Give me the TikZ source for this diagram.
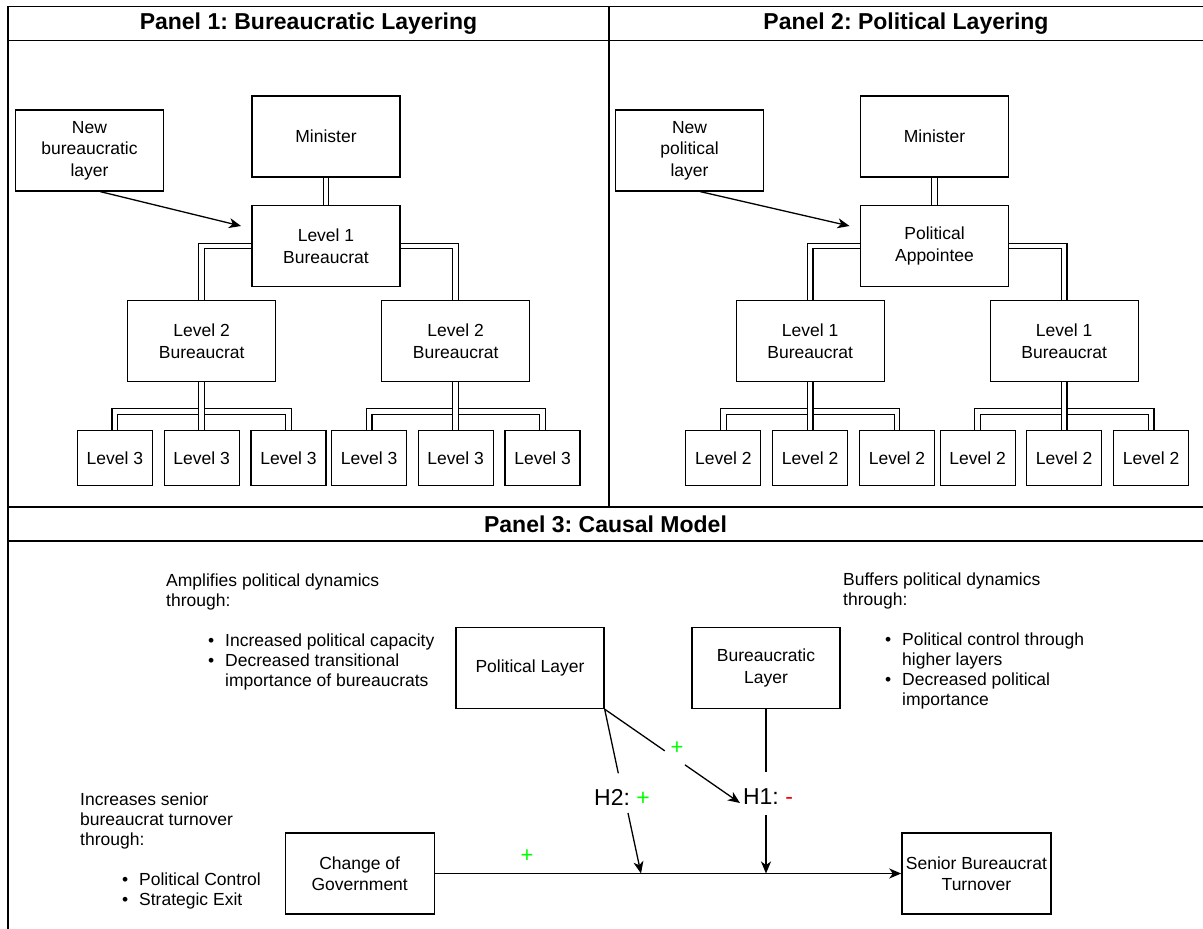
\documentclass[tikz,border=0pt]{standalone}
\usepackage{fontspec}
\setmainfont{Liberation Sans}
\usetikzlibrary{arrows.meta,calc}
\pgfdeclarelayer{bg}
\pgfsetlayers{bg,main}
\definecolor{pgreen}{HTML}{00FF00}
\definecolor{mred}{HTML}{FF0000}
\newcommand{\boxfont}{\fontsize{17.5}{21.5}\selectfont}
\newcommand{\blockfont}{\fontsize{17.5}{20}\selectfont}
\newcommand{\bl}{\makebox[17pt][l]{\textbullet}}
\frenchspacing
\begin{document}
\begin{tikzpicture}[x=1pt,y=-1pt,
  box/.style={draw=black, line width=1.3pt, fill=white, minimum width=148pt, minimum height=81pt, align=center, inner sep=0pt, font=\boxfont},
  leaf/.style={box, minimum width=75pt, minimum height=55pt},
  dbl/.style={draw=black, double=white, double distance=4.5pt, line width=1.2pt},
  frame/.style={draw=black, line width=1.5pt},
  conn/.style={draw=black, line width=1.3pt},
  arr/.style={conn, -{Stealth[length=12pt,width=10pt,inset=3.5pt]}},
  ttl/.style={font=\fontsize{23}{27}\selectfont\bfseries, inner sep=0pt},
  txt/.style={font=\blockfont, inner sep=0pt, anchor=north west, align=left},
  hl/.style={font=\fontsize{23}{27}\selectfont, inner sep=0pt},
  sign/.style={font=\fontsize{22}{26}\selectfont, inner sep=0pt, text=pgreen},
]
\useasboundingbox (0,0) rectangle (1203,929);

% frame
\draw[frame] (1210,6.5) -- (8,6.5) -- (8,935);
\draw[frame] (8,40.5) -- (1210,40.5);
\draw[frame] (609,6.5) -- (609,507);
\draw[frame] (8,507) -- (1210,507);
\draw[frame] (8,541) -- (1210,541);

\node[ttl] (t1) at (308.5,23.5) {Panel 1: Bureaucratic Layering};
\node[ttl] (t2) at (906,23.5) {Panel 2: Political Layering};
\node[ttl] (t3) at (605.5,524) {Panel 3: Causal Model};

% ---------- Panel 1 ----------
\node[box] (nb1) at (89.5,150.4) {New\\bureaucratic\\layer};
\node[box] (min1) at (326,136.5) {Minister};
\node[box] (l11) at (326,246) {Level 1\\Bureaucrat};
\node[box] (l2a1) at (201.7,341) {Level 2\\Bureaucrat};
\node[box] (l2b1) at (455.7,341) {Level 2\\Bureaucrat};
\node[leaf] (a1) at (114.8,458) {Level 3};
\node[leaf] (a2) at (201.7,458) {Level 3};
\node[leaf] (a3) at (288.5,458) {Level 3};
\node[leaf] (b1) at (369.2,458) {Level 3};
\node[leaf] (b2) at (455.7,458) {Level 3};
\node[leaf] (b3) at (542.6,458) {Level 3};

% ---------- Panel 2 ----------
\node[box] (nb2) at (689.5,150.4) {New\\political\\layer};
\node[box] (min2) at (934.5,136.5) {Minister};
\node[box] (pa2) at (934.5,246) {Political\\Appointee};
\node[box] (l2a2) at (810.2,341) {Level 1\\Bureaucrat};
\node[box] (l2b2) at (1064.2,341) {Level 1\\Bureaucrat};
\node[leaf] (c1) at (723.3,458) {Level 2};
\node[leaf] (c2) at (810.2,458) {Level 2};
\node[leaf] (c3) at (897,458) {Level 2};
\node[leaf] (d1) at (977.7,458) {Level 2};
\node[leaf] (d2) at (1064.2,458) {Level 2};
\node[leaf] (d3) at (1151.1,458) {Level 2};

\begin{pgfonlayer}{bg}
  \draw[dbl] (min1.south) -- (l11.north);
  \draw[dbl] (l11.west) -| (l2a1.north);
  \draw[dbl] (l11.east) -| (l2b1.north);
  \draw[dbl] (l2a1.south) -- ++(0,29.3) -| (a1.north);
  \draw[dbl] (l2a1.south) -- ++(0,29.3) -| (a3.north);
  \draw[dbl] (l2a1.south) -- (a2.north);
  \draw[dbl] (l2b1.south) -- ++(0,29.3) -| (b1.north);
  \draw[dbl] (l2b1.south) -- ++(0,29.3) -| (b3.north);
  \draw[dbl] (l2b1.south) -- (b2.north);

  \draw[dbl] (min2.south) -- (pa2.north);
  \draw[dbl] (pa2.west) -| (l2a2.north);
  \draw[dbl] (pa2.east) -| (l2b2.north);
  \draw[dbl] (l2a2.south) -- ++(0,29.3) -| (c1.north);
  \draw[dbl] (l2a2.south) -- ++(0,29.3) -| (c3.north);
  \draw[dbl] (l2a2.south) -- (c2.north);
  \draw[dbl] (l2b2.south) -- ++(0,29.3) -| (d1.north);
  \draw[dbl] (l2b2.south) -- ++(0,29.3) -| (d3.north);
  \draw[dbl] (l2b2.south) -- (d2.north);
\end{pgfonlayer}

\draw[arr] ($(nb1.south)+(10.5,0)$) -- ($(l11.west)+(-10.3,-20)$);
\draw[arr] ($(nb2.south)+(10.5,0)$) -- ($(pa2.west)+(-10.3,-20)$);

% ---------- Panel 3 ----------
\node[txt] (tx1) at (166,572.7) {\begin{tabular}{@{}l@{}}
Amplifies political dynamics\\
through:\\
\\
\hspace*{42pt}\bl Increased political capacity\\
\hspace*{42pt}\bl Decreased transitional\\
\hspace*{59pt}importance of bureaucrats
\end{tabular}};

\node[txt] (tx2) at (843,571) {\begin{tabular}{@{}l@{}}
Buffers political dynamics\\
through:\\
\\
\hspace*{42pt}\bl Political control through\\
\hspace*{59pt}higher layers\\
\hspace*{42pt}\bl Decreased political\\
\hspace*{59pt}importance
\end{tabular}};

\node[txt] (tx3) at (80,791) {\begin{tabular}{@{}l@{}}
Increases senior\\
bureaucrat turnover\\
through:\\
\\
\hspace*{42pt}\bl Political Control\\
\hspace*{42pt}\bl Strategic Exit
\end{tabular}};

\node[box] (pl) at (530,668) {Political Layer};
\node[box] (bl) at (766,668) {Bureaucratic\\Layer};
\node[box, minimum width=149pt] (cog) at (359.7,873.5) {Change of\\Government};
\node[box, minimum width=149pt] (sbt) at (976.4,873.5) {Senior Bureaucrat\\Turnover};

\node[hl] (h2) at (622,797) {H2: \textcolor{pgreen}{+}};
\node[hl] (h1) at (768,797) {H1: \textcolor{mred}{-}};

\coordinate (t1tip) at (740,803);
\coordinate (g1) at ($(pl.south east)!0.444!(t1tip)$);
\coordinate (g2) at ($(pl.south east)!0.593!(t1tip)$);
\coordinate (h2t) at (618.3,773.3);
\coordinate (h2b) at (628,813);
\coordinate (j2x) at (641,0);
\coordinate (j2) at (j2x |- cog.east);
\coordinate (h1t) at (766,772);
\coordinate (h1b) at (766,815);
\coordinate (j1) at (bl.south |- cog.east);

\draw[conn] (pl.south east) -- (g1);
\draw[arr] (g2) -- (t1tip);
\node[sign] (p1) at (677,748) {+};
\draw[conn] (pl.south east) -- (h2t);
\draw[arr] (h2b) -- (j2);
\draw[conn] (bl.south) -- (h1t);
\draw[arr] (h1b) -- (j1);
\draw[arr] (cog.east) -- (sbt.west);
\node[sign] (p2) at (527,856) {+};
\end{tikzpicture}
\end{document}
